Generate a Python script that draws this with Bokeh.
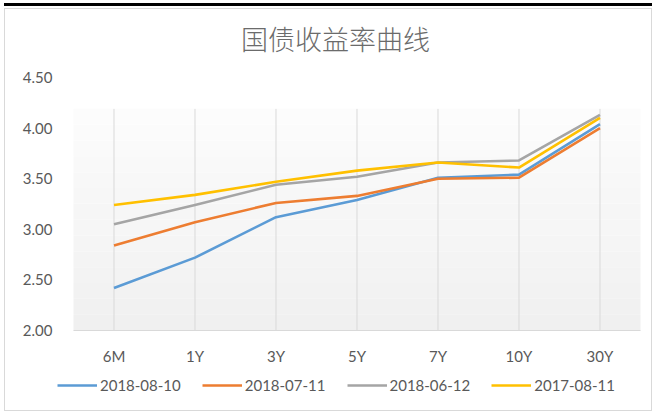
from bokeh.plotting import figure
from bokeh.models import (Range1d, FixedTicker, NumeralTickFormatter,
                          Legend, LegendItem, Label, BoxAnnotation)
from bokeh.core.properties import value
from bokeh.embed import file_html
from bokeh.resources import INLINE

title_text = "国债收益率曲线"
tenors = ["6M", "1Y", "3Y", "5Y", "7Y", "10Y", "30Y"]
y_ticks = [2.0, 2.5, 3.0, 3.5, 4.0, 4.5]

series_names = ["2018-08-10", "2018-07-11", "2018-06-12", "2017-08-11"]
s_20180810 = [2.42, 2.72, 3.12, 3.29, 3.51, 3.54, 4.04]
s_20180711 = [2.84, 3.07, 3.26, 3.33, 3.50, 3.51, 4.00]
s_20180612 = [3.05, 3.24, 3.44, 3.52, 3.66, 3.68, 4.13]
s_20170811 = [3.24, 3.34, 3.47, 3.58, 3.66, 3.61, 4.10]
series_values = [s_20180810, s_20180711, s_20180612, s_20170811]
colors = ["#5B9BD5", "#ED7D31", "#A5A5A5", "#FFC000"]

FONT = "Lato"
TXT = "#595959"

# layout (pixels)
W, H = 648, 403
ML, MR, MT, MB = 50, 0, 3, 2
CAT_PX = 81.0           # width of one category band
FIRST_CAT_PX = 58.5     # centre of first category from frame left
Y_PX = 101.2            # pixels per unit on y
Y_TOP_PX = 65.0         # y_ticks[-1] below frame top
frame_w = W - ML - MR
frame_h = H - MT - MB

x_pos = list(range(len(tenors)))
x0 = -FIRST_CAT_PX / CAT_PX
x1 = x0 + frame_w / CAT_PX
y1 = y_ticks[-1] + Y_TOP_PX / Y_PX
y0 = y1 - frame_h / Y_PX

p = figure(width=W, height=H, x_range=Range1d(x0, x1), y_range=Range1d(y0, y1),
           output_backend="svg", toolbar_location=None,
           min_border_left=ML, min_border_right=MR, min_border_top=MT, min_border_bottom=MB,
           background_fill_color="white", border_fill_color="white", outline_line_color=None)
p.margin = (8, 0, 0, 4)
p.styles = {"border": "1px solid #d9d9d9",
            "box-shadow": "0 -2px 0 0 white, 0 -5px 0 0 black"}

# gradient-like plot area background
grad_top = 4.19
n = 14
for i in range(n):
    t = y_ticks[0] + (grad_top - y_ticks[0]) * (i + 1) / n
    b = y_ticks[0] + (grad_top - y_ticks[0]) * i / n
    g = int(240 + 13 * (i + 0.5) / n)
    p.add_layout(BoxAnnotation(bottom=b, top=t, left=x_pos[0] - 0.5, right=x_pos[-1] + 0.5,
                               fill_color=(g, g, g), fill_alpha=1.0,
                               line_color=None, level="underlay"))

p.xgrid.grid_line_color = None
p.ygrid.grid_line_color = None
p.segment(x0=x_pos, y0=[y_ticks[0]] * len(tenors), x1=x_pos, y1=[grad_top] * len(tenors),
          line_color="#d9d9d9", line_width=1)
p.segment(x0=[x_pos[0] - 0.5], y0=[y_ticks[0]], x1=[x_pos[-1] + 0.5], y1=[y_ticks[0]],
          line_color="#d9d9d9", line_width=1)

renderers = []
for vals, c in zip(series_values, colors):
    r = p.line(x_pos, vals, line_color=c, line_width=2.6, line_join="round")
    renderers.append(r)

# category labels
p.text(x=x_pos, y=[y_ticks[0]] * len(tenors), text=tenors, y_offset=25,
       text_align="center", text_baseline="middle", text_font=value(FONT),
       text_font_size="15px", text_color=TXT)

p.xaxis.visible = False
p.yaxis.ticker = FixedTicker(ticks=y_ticks)
p.yaxis.formatter = NumeralTickFormatter(format="0.00")
p.yaxis.axis_line_color = None
p.yaxis.major_tick_line_color = None
p.yaxis.minor_tick_line_color = None
p.yaxis.major_tick_out = 0
p.yaxis.major_label_standoff = 3
p.yaxis.major_label_text_font = FONT
p.yaxis.major_label_text_font_size = "15px"
p.yaxis.major_label_text_color = TXT

legend = Legend(items=[LegendItem(label=nm, renderers=[r]) for nm, r in zip(series_names, renderers)],
                orientation="horizontal", location=(2, 16),
                glyph_width=40, glyph_height=14, label_standoff=3, spacing=21,
                padding=0, margin=0, border_line_color=None, background_fill_alpha=0,
                label_text_font=FONT, label_text_font_size="15px", label_text_color=TXT)
p.add_layout(legend, "center")

p.add_layout(Label(x=2.735, y=4.885, text=title_text, text_align="center", text_baseline="middle",
                   text_font="Noto Sans CJK SC Light, Noto Sans CJK SC", text_font_size="27px",
                   text_color="#6b6b6b"))

open("out.html", "w").write(file_html(p, INLINE))
